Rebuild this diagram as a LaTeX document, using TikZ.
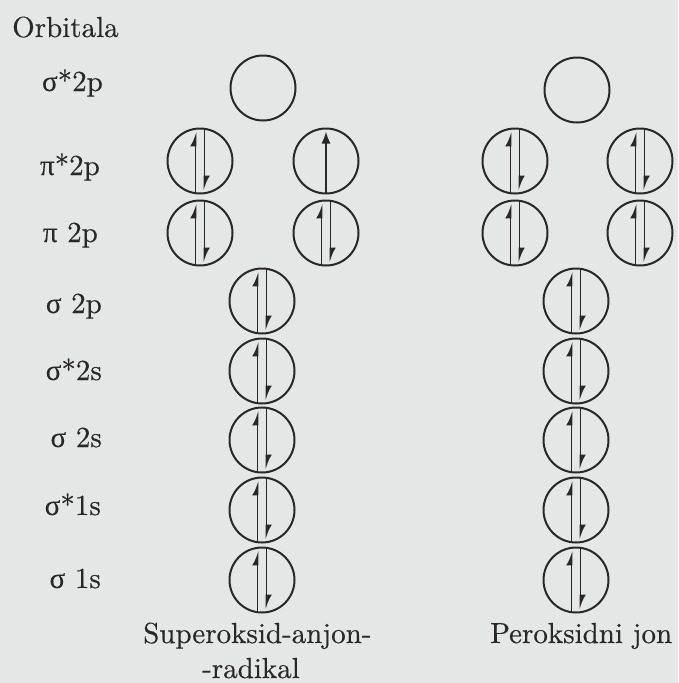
\documentclass[tikz,border=0pt]{standalone}
\usepackage{fontspec}
\setmainfont{lmroman10-regular.otf}[FakeBold=0.4]
\newfontfamily\greekfont{Liberation Serif}[FakeBold=0.15]
\usetikzlibrary{arrows.meta}
\definecolor{bg}{RGB}{229,231,230}
\definecolor{ink}{RGB}{40,40,40}
\newcommand\epair[1]{%
  \draw[upe] ([xshift=-4.5pt]#1.south) -- ([xshift=-4.5pt,yshift=-3pt]#1.north);
  \draw[dne] ([xshift=4.5pt]#1.north) -- ([xshift=4.5pt,yshift=3pt]#1.south);}
\newcommand\esingle[1]{%
  \draw[upfull] (#1.south) -- ([yshift=-3pt]#1.north);}
\newcommand\bodyfont{\fontsize{29}{35}\selectfont}
\begin{document}
\begin{tikzpicture}[x=1pt,y=-1pt,
  orb/.style={circle,draw=ink,line width=2pt,minimum size=65pt,inner sep=0pt,outer sep=0pt},
  lbl/.style={anchor=base east,text=ink,font=\bodyfont,inner sep=0pt},
  txt/.style={anchor=base west,text=ink,font=\bodyfont,inner sep=0pt},
  upe/.style={draw=ink,line width=1.8pt,-{Latex[harpoon,length=12pt,width=11pt]}},
  dne/.style={draw=ink,line width=1.8pt,-{Latex[harpoon,length=12pt,width=11pt]}},
  upfull/.style={draw=ink,line width=1.8pt,-{Latex[length=12pt,width=9pt]}}]
\fill[bg] (0,0) rectangle (678,683);
\useasboundingbox (0,0) rectangle (678,683);
% labels
\node[txt] (title) at (12,37) {Orbitala};
\node[lbl] (l1) at (103,91) {{\greekfont σ}*2p};
\node[lbl] (l2) at (100,175) {{\greekfont π}*2p};
\node[lbl] (l3) at (98,242) {{\greekfont π} 2p};
\node[lbl] (l4) at (102,313) {{\greekfont σ} 2p};
\node[lbl] (l5) at (102,380) {{\greekfont σ}*2s};
\node[lbl] (l6) at (102,447) {{\greekfont σ} 2s};
\node[lbl] (l7) at (101,515) {{\greekfont σ}*1s};
\node[lbl] (l8) at (101,588) {{\greekfont σ} 1s};
% left column (superoxide)
\node[orb] (a1) at (263,88) {};
\node[orb] (a2l) at (200,161) {};
\node[orb] (a2r) at (326,161) {};
\node[orb] (a3l) at (200,233) {};
\node[orb] (a3r) at (326,233) {};
\node[orb] (a4) at (262,301) {};
\node[orb] (a5) at (262,371) {};
\node[orb] (a6) at (262,440) {};
\node[orb] (a7) at (262,510) {};
\node[orb] (a8) at (262,580) {};
% right column (peroxide)
\node[orb] (b1) at (577,90) {};
\node[orb] (b2l) at (515,161) {};
\node[orb] (b2r) at (640,161) {};
\node[orb] (b3l) at (515,233) {};
\node[orb] (b3r) at (640,233) {};
\node[orb] (b4) at (576,301) {};
\node[orb] (b5) at (576,371) {};
\node[orb] (b6) at (576,440) {};
\node[orb] (b7) at (576,510) {};
\node[orb] (b8) at (576,580) {};
% electrons
\epair{a2l}\esingle{a2r}\epair{a3l}\epair{a3r}
\epair{a4}\epair{a5}\epair{a6}\epair{a7}\epair{a8}
\epair{b2l}\epair{b2r}\epair{b3l}\epair{b3r}
\epair{b4}\epair{b5}\epair{b6}\epair{b7}\epair{b8}
% captions
\node[txt] (cap1) at (143,643) {Superoksid-anjon-};
\node[txt] (cap2) at (202,678) {-radikal};
\node[txt] (cap3) at (490,643) {Peroksidni jon};
\end{tikzpicture}
\end{document}
